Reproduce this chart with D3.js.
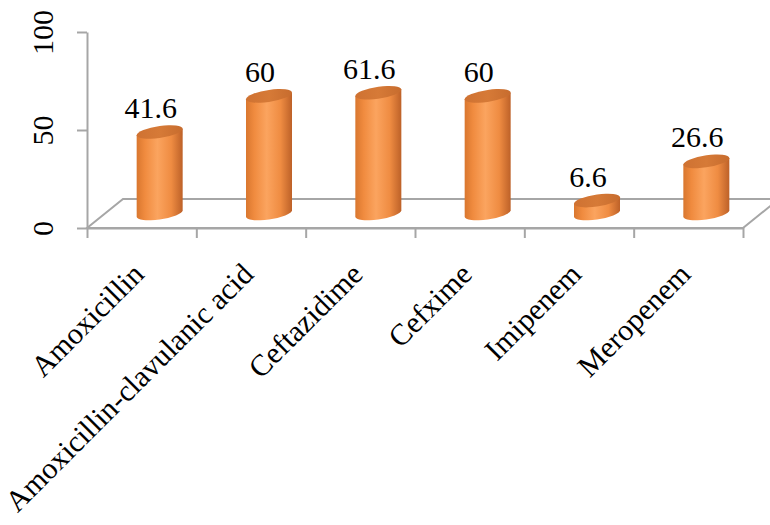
<!DOCTYPE html>
<html>
<head>
<meta charset="utf-8">
<script src="https://cdn.jsdelivr.net/npm/d3@7"></script>
<style>
  body { margin: 0; background: #fff; }
</style>
</head>
<body>
<div id="chart"></div>
<script>
const categories = ["Amoxicillin", "Amoxicillin-clavulanic acid", "Ceftazidime", "Cefxime", "Imipenem", "Meropenem"];
const values = [41.6, 60, 61.6, 60, 6.6, 26.6];
const yTicks = [0, 50, 100];

const width = 770,
	height = 525;

const fontFamily = '"Liberation Serif", "Times New Roman", serif';

// floor depth of the 3d box
const depthX = 36,
	depthY = -29;

const svg = d3
	.select("#chart")
	.append("svg")
	.attr("width", width)
	.attr("height", height);

const x = d3.scaleBand().domain(categories).range([87, 743]);
const xEdge = d3.scaleLinear().domain([0, categories.length]).range([87, 743]);
const y = d3.scaleLinear().domain([0, 100]).range([228, 32]);

const grey = "#a6a6a6";

// floor
const floorY = y(0);
svg
	.append("path")
	.attr(
		"d",
		`M${xEdge(0)},${floorY} L${xEdge(0) + depthX},${floorY + depthY} L${xEdge(6) + depthX},${floorY + depthY} L${xEdge(6)},${floorY} Z`
	)
	.attr("fill", "none")
	.attr("stroke", grey)
	.attr("stroke-width", 2);

// y axis
const yAxis = svg
	.append("g")
	.attr("transform", `translate(${xEdge(0)},0)`)
	.call(d3.axisLeft(y).tickValues(yTicks).tickSize(10).tickSizeOuter(0));
yAxis.selectAll("path, line").attr("stroke", grey).attr("stroke-width", 2);
yAxis
	.selectAll("text")
	.style("font-family", fontFamily)
	.attr("font-size", 30)
	.attr("fill", "#000")
	.attr("text-anchor", "middle")
	.attr("x", null)
	.attr("dy", null)
	.attr("transform", "translate(-34,0) rotate(-90)");

// x axis ticks at band edges
const xAxis = svg
	.append("g")
	.attr("transform", `translate(0,${floorY})`)
	.call(
		d3
		.axisBottom(xEdge)
		.tickValues(d3.range(categories.length + 1))
		.tickFormat("")
		.tickSize(10)
		.tickSizeOuter(0)
	);
xAxis.selectAll("path, line").attr("stroke", grey).attr("stroke-width", 2);

// category labels
svg
	.append("g")
	.selectAll("text")
	.data(categories)
	.join("text")
	.style("font-family", fontFamily)
	.attr("font-size", 30)
	.attr("text-anchor", "end")
	.attr("transform", (d) => `translate(${x(d) + x.bandwidth() / 2 + 4},276) rotate(-45)`)
	.text((d) => d);

// cylinders
const defs = svg.append("defs");
const bodyGrad = defs
	.append("linearGradient")
	.attr("id", "body")
	.attr("x1", "0%")
	.attr("x2", "100%");
[
	[0, "#d9772f"],
	[0.18, "#f08b3f"],
	[0.45, "#fba45f"],
	[0.75, "#ef8c42"],
	[1, "#bd6128"],
].forEach(([o, c]) => bodyGrad.append("stop").attr("offset", o).attr("stop-color", c));

const topGrad = defs
	.append("linearGradient")
	.attr("id", "top")
	.attr("x1", "0%")
	.attr("x2", "100%");
[
	[0, "#cf7232"],
	[0.5, "#d67a37"],
	[1, "#c76c2e"],
].forEach(([o, c]) => topGrad.append("stop").attr("offset", o).attr("stop-color", c));

const rx = 23,
	ry = 6,
	tilt = Math.tan((-8 * Math.PI) / 180);

const bars = svg
	.append("g")
	.selectAll("g")
	.data(categories.map((c, i) => ({ name: c, value: values[i] })))
	.join("g")
	.attr("transform", (d) => {
		const cx = x(d.name) + x.bandwidth() / 2 + depthX / 2;
		return `translate(${cx},0) matrix(1,${tilt},0,1,0,0)`;
	});

const yBase = floorY + depthY / 2;
const barTop = (v) => y(v) + depthY / 2;

bars
	.append("path")
	.attr(
		"d",
		(d) =>
		`M${-rx},${barTop(d.value)} L${-rx},${yBase} A${rx},${ry} 0 0 0 ${rx},${yBase} L${rx},${barTop(d.value)} Z`
	)
	.attr("fill", "url(#body)");

bars
	.append("ellipse")
	.attr("cx", 0)
	.attr("cy", (d) => barTop(d.value))
	.attr("rx", rx)
	.attr("ry", ry)
	.attr("fill", "url(#top)");

// value labels
svg
	.append("g")
	.selectAll("text")
	.data(values)
	.join("text")
	.style("font-family", fontFamily)
	.attr("font-size", 30)
	.attr("text-anchor", "middle")
	.attr("x", (d, i) => x(categories[i]) + x.bandwidth() / 2 + 9)
	.attr("y", (d) => barTop(d) - 14)
	.text((d) => d);
</script>
</body>
</html>
